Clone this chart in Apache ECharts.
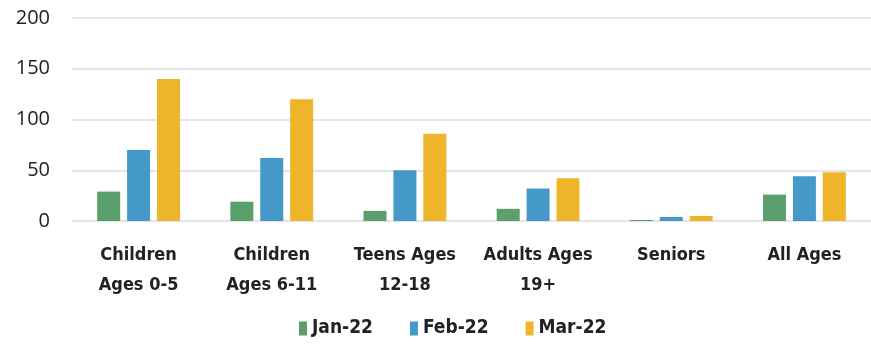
<!DOCTYPE html>
<html>
<head>
<meta charset="utf-8">
<script src="https://cdn.jsdelivr.net/npm/echarts@6/dist/echarts.min.js"></script>
<style>
  html, body { margin: 0; padding: 0; background: #ffffff; }
  #chart { width: 871px; height: 347px; }
</style>
</head>
<body>
<div id="chart"></div>
<script>
// Age groups along the x axis
const categories = [
  'Children\nAges 0-5',
  'Children\nAges 6-11',
  'Teens Ages\n12-18',
  'Adults Ages\n19+',
  'Seniors',
  'All Ages'
];

// Monthly counts per age group
const jan22 = [29, 19, 10, 12, 1, 26];
const feb22 = [70, 62, 50, 32, 4, 44];
const mar22 = [140, 120, 86, 42, 5, 48];

const seriesNames = ['Jan-22', 'Feb-22', 'Mar-22'];
const seriesColors = ['#5a9f6c', '#4499c9', '#efb52a'];

const yTicks = { min: 0, max: 200, interval: 50 };

const font = "'DejaVu Sans Condensed', 'Open Sans', sans-serif";

const chart = echarts.init(document.getElementById('chart'));

const values = [jan22, feb22, mar22];

chart.setOption({
  animation: false,
  backgroundColor: '#ffffff',
  grid: { left: 72, right: 0, top: 18, bottom: 126 },
  legend: {
    bottom: 4,
    left: 294,
    itemWidth: 8,
    itemHeight: 14,
    itemGap: 37,
    icon: 'rect',
    textStyle: { fontFamily: font, fontSize: 19, fontWeight: 'bold', color: '#222' },
    data: seriesNames
  },
  xAxis: {
    type: 'category',
    data: categories,
    axisLine: { show: false },
    axisTick: { show: false },
    axisLabel: {
      margin: 19,
      interval: 0,
      fontFamily: font,
      fontSize: 18,
      fontWeight: 'bold',
      color: '#222',
      lineHeight: 30
    }
  },
  yAxis: {
    type: 'value',
    min: yTicks.min,
    max: yTicks.max,
    interval: yTicks.interval,
    axisLine: { show: false },
    axisTick: { show: false },
    splitLine: { lineStyle: { color: '#dcdcdc', width: 1.5 } },
    axisLabel: {
      margin: 22,
      fontFamily: "'Open Sans', sans-serif",
      fontSize: 20,
      color: '#222'
    }
  },
  series: seriesNames.map((name, i) => ({
    name,
    type: 'bar',
    data: values[i],
    barWidth: 23,
    barGap: '30%',
    itemStyle: { color: seriesColors[i] }
  }))
});
</script>
</body>
</html>
